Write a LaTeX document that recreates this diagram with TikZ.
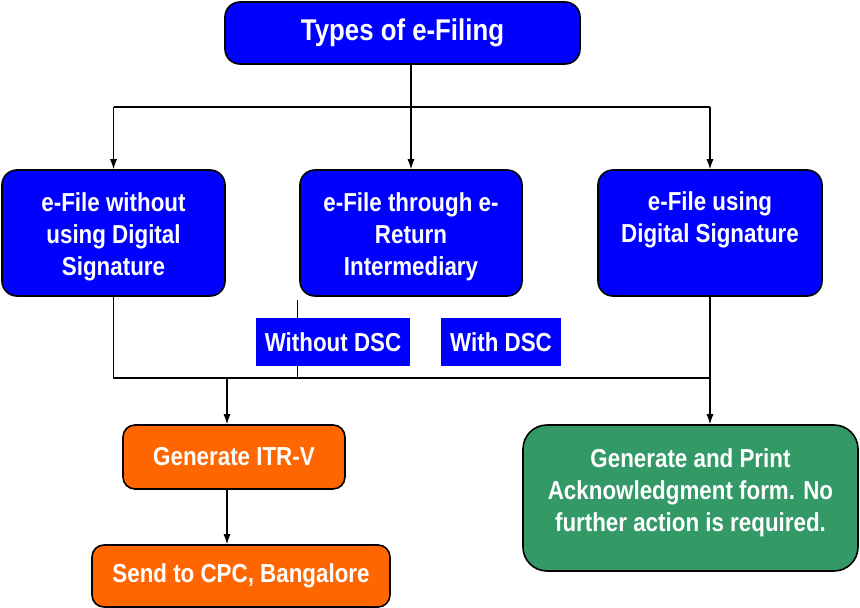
\documentclass[tikz,border=0pt]{standalone}
\usepackage{fontspec}
\setmainfont[FakeStretch=0.86]{Liberation Sans}
\usetikzlibrary{arrows.meta}
\definecolor{boxblue}{RGB}{0,0,255}
\definecolor{boxorange}{RGB}{255,102,0}
\definecolor{boxgreen}{RGB}{51,153,102}
\begin{document}
\begin{tikzpicture}[x=1pt,y=-1pt,thick,line join=round,
    box/.style={draw=black,line width=1.6pt,text=white,align=center,inner sep=0pt,
      font=\fontsize{26}{32}\selectfont\bfseries},
    bluebox/.style={box,fill=boxblue,rounded corners=15pt},
    tagbox/.style={box,fill=boxblue,draw=none},
    orangebox/.style={box,fill=boxorange,rounded corners=12pt},
    greenbox/.style={box,fill=boxgreen,rounded corners=24pt},
    link/.style={line width=1.1pt},
    arr/.style={link,-{Latex[length=10pt,width=7pt]}}]
  \useasboundingbox (0,0) rectangle (860,608);
  \node[bluebox,minimum width=355pt,minimum height=62pt,
        font=\fontsize{30}{34}\selectfont\bfseries] (types) at (402.5,33) {Types of e-Filing};
  \node[bluebox,minimum width=223pt,minimum height=126pt] (nodsc) at (113.5,233)
        {\\[-6pt]e-File without\\using Digital\\Signature};
  \node[bluebox,minimum width=222pt,minimum height=126pt] (eri) at (411,233)
        {\\[-6pt]e-File through e-\\Return\\Intermediary};
  \node[bluebox,minimum width=224pt,minimum height=126pt] (dsc) at (710,233)
        {e-File using\\Digital Signature\\\mbox{}};
  \node[orangebox,minimum width=222pt,minimum height=64pt] (itrv) at (234,457) {Generate ITR-V};
  \node[orangebox,minimum width=298pt,minimum height=62pt] (cpc) at (241,576)
        {Send to CPC, Bangalore};
  \node[greenbox,minimum width=335pt,minimum height=146pt] (ack) at (690.5,498)
        {Generate and Print\\Acknowledgment form. No\\further action is required.\\[-16pt]\mbox{}};
  % top fork
  \coordinate (fork) at (411,107);
  \draw[link] (types.south -| eri.north) -- (fork);
  \draw[link] (fork -| nodsc.north) -- (fork -| dsc.north);
  \draw[arr] (fork -| nodsc.north) -- (nodsc.north);
  \draw[arr] (fork) -- (eri.north);
  \draw[arr] (fork -| dsc.north) -- (dsc.north);
  % bottom join
  \coordinate (join) at (113.5,378);
  \coordinate (drop) at (227,378);
  \draw[link] (nodsc.south) -- (join) -- (join -| dsc.south);
  \draw[link] ([xshift=-2pt,yshift=-3pt]eri.south west) -- ([xshift=-2pt]eri.south west |- join);
  \draw[arr] (dsc.south) -- (dsc.south |- ack.north);
  \draw[arr] (drop) -- (drop |- itrv.north);
  \draw[arr] (itrv.south -| drop) -- (cpc.north -| drop);
  % DSC tags
  \node[tagbox,minimum width=154pt,minimum height=48pt] (without) at (333,342) {Without DSC};
  \node[tagbox,minimum width=120pt,minimum height=48pt] (with) at (501,342) {With DSC};
\end{tikzpicture}
\end{document}
